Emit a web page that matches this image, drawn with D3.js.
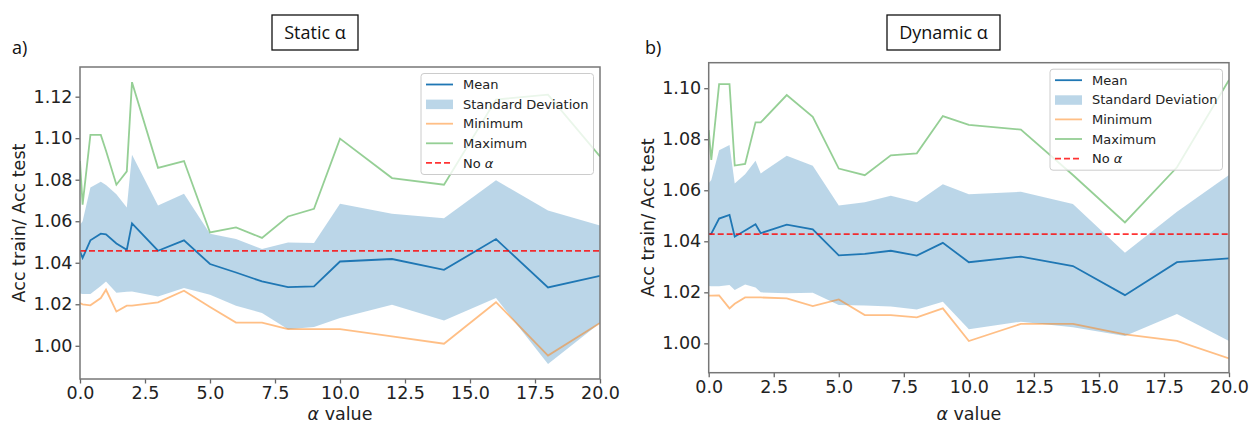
<!DOCTYPE html>
<html>
<head>
<meta charset="utf-8">
<script src="https://cdn.jsdelivr.net/npm/d3@7"></script>
<style>
  body { margin: 0; background: #fff; }
  text { font-family: "DejaVu Sans", sans-serif; }
</style>
</head>
<body>
<script>
// alpha values shared by both runs
var alphaValues = [0, 0.1, 0.4, 0.8, 1.0, 1.4, 1.8, 2.0, 3, 4, 5, 6, 7, 8, 9, 10, 12, 14, 16, 18, 20];
var xTicks = [0, 2.5, 5, 7.5, 10, 12.5, 15, 17.5, 20];

// static alpha
var staticMean  = [1.0455, 1.0423, 1.0508, 1.0540, 1.0537, 1.0493, 1.0462, 1.0590, 1.0458, 1.0508, 1.0394, 1.0353, 1.0310, 1.0283, 1.0286, 1.0406, 1.0418, 1.0366, 1.0514, 1.0281, 1.0337];
var staticUpper = [1.0583, 1.0600, 1.0762, 1.0790, 1.0775, 1.0730, 1.0666, 1.0920, 1.0676, 1.0733, 1.0540, 1.0514, 1.0466, 1.0498, 1.0495, 1.0684, 1.0636, 1.0614, 1.0797, 1.0652, 1.0580];
var staticLower = [1.0252, 1.0250, 1.0250, 1.0288, 1.0310, 1.0256, 1.0260, 1.0262, 1.0238, 1.0278, 1.0246, 1.0193, 1.0158, 1.0080, 1.0090, 1.0134, 1.0198, 1.0122, 1.0230, 0.9912, 1.0110];
var staticMin   = [1.0206, 1.0200, 1.0195, 1.0230, 1.0270, 1.0165, 1.0193, 1.0193, 1.0209, 1.0265, 1.0187, 1.0112, 1.0112, 1.0080, 1.0080, 1.0080, 1.0045, 1.0010, 1.0210, 0.9953, 1.0110];
var staticMax   = [1.0890, 1.0680, 1.1016, 1.1016, 1.0940, 1.0776, 1.0840, 1.1270, 1.0857, 1.0890, 1.0546, 1.0570, 1.0520, 1.0623, 1.0660, 1.0998, 1.0808, 1.0776, 1.1186, 1.1210, 1.0912];
var staticNoAlpha = 1.0457;
var staticYTicks = [1.00, 1.02, 1.04, 1.06, 1.08, 1.10, 1.12];

// dynamic alpha
var dynMean  = [1.0428, 1.0430, 1.0489, 1.0503, 1.0418, 1.0442, 1.0467, 1.0432, 1.0465, 1.0447, 1.0345, 1.0351, 1.0363, 1.0344, 1.0394, 1.0318, 1.0340, 1.0303, 1.0189, 1.0318, 1.0333];
var dynUpper = [1.0628, 1.0640, 1.0757, 1.0777, 1.0627, 1.0663, 1.0716, 1.0666, 1.0735, 1.0696, 1.0540, 1.0553, 1.0579, 1.0553, 1.0624, 1.0584, 1.0594, 1.0546, 1.0355, 1.0516, 1.0660];
var dynLower = [1.0225, 1.0224, 1.0224, 1.0229, 1.0209, 1.0231, 1.0219, 1.0200, 1.0196, 1.0198, 1.0150, 1.0148, 1.0144, 1.0133, 1.0163, 1.0055, 1.0085, 1.0063, 1.0029, 1.0115, 1.0009];
var dynMin   = [1.0187, 1.0187, 1.0188, 1.0137, 1.0155, 1.0180, 1.0180, 1.0180, 1.0176, 1.0146, 1.0172, 1.0111, 1.0111, 1.0102, 1.0137, 1.0009, 1.0076, 1.0076, 1.0035, 1.0010, 0.9941];
var dynMax   = [1.0836, 1.0719, 1.1016, 1.1016, 1.0697, 1.0703, 1.0866, 1.0866, 1.0973, 1.0888, 1.0685, 1.0659, 1.0737, 1.0745, 1.0891, 1.0856, 1.0838, 1.0660, 1.0474, 1.0690, 1.1032];
var dynNoAlpha = 1.0428;
var dynYTicks = [1.00, 1.02, 1.04, 1.06, 1.08, 1.10];

var legendLabels = ["Mean", "Standard Deviation", "Minimum", "Maximum", "No "];

var svg = d3.select("body").append("svg")
    .attr("width", 1257)
    .attr("height", 426);

var blue = "#1f77b4", orange = "#ff7f0e", green = "#2ca02c";

function drawPanel(p) {
  var x = d3.scaleLinear().domain([0, 20]).range([p.left, p.right]);
  var y = d3.scaleLinear().domain(p.yDomain).range([p.bottom, p.top]);
  var g = svg.append("g");

  g.append("clipPath").attr("id", "clip" + p.id)
    .append("rect")
    .attr("x", p.left).attr("y", p.top)
    .attr("width", p.right - p.left).attr("height", p.bottom - p.top);

  var plot = g.append("g").attr("clip-path", "url(#clip" + p.id + ")");

  var rows = alphaValues.map(function(a, i) {
    return {a: a, mean: p.mean[i], lo: p.lower[i], hi: p.upper[i], min: p.min[i], max: p.max[i]};
  });

  // std band
  plot.append("path").datum(rows)
    .attr("d", d3.area().x(d => x(d.a)).y0(d => y(d.lo)).y1(d => y(d.hi)))
    .attr("fill", blue).attr("fill-opacity", 0.3);

  var lineOf = function(key) {
    return d3.line().x(d => x(d.a)).y(d => y(d[key]));
  };
  plot.append("path").datum(rows).attr("d", lineOf("mean"))
    .attr("fill", "none").attr("stroke", blue).attr("stroke-width", 1.8);
  plot.append("path").datum(rows).attr("d", lineOf("min"))
    .attr("fill", "none").attr("stroke", orange).attr("stroke-opacity", 0.5).attr("stroke-width", 1.8);
  plot.append("path").datum(rows).attr("d", lineOf("max"))
    .attr("fill", "none").attr("stroke", green).attr("stroke-opacity", 0.5).attr("stroke-width", 1.8);

  // no alpha reference
  plot.append("line")
    .attr("x1", p.left).attr("x2", p.right)
    .attr("y1", y(p.noAlpha)).attr("y2", y(p.noAlpha))
    .attr("stroke", "#ff0000").attr("stroke-opacity", 0.8)
    .attr("stroke-width", 1.8).attr("stroke-dasharray", "6,3");

  // axes
  var xAxis = d3.axisBottom(x).tickValues(xTicks).tickFormat(d3.format(".1f"))
    .tickSize(4.5).tickPadding(3.5);
  var yAxis = d3.axisLeft(y).tickValues(p.yTicks).tickFormat(d3.format(".2f"))
    .tickSize(4.5).tickPadding(3);

  var gx = g.append("g").attr("transform", "translate(0," + p.bottom + ")").call(xAxis);
  var gy = g.append("g").attr("transform", "translate(" + p.left + ",0)").call(yAxis);
  [gx, gy].forEach(function(ax) {
    ax.select(".domain").remove();
    ax.selectAll(".tick line").attr("stroke", "#666").attr("stroke-width", 1.3);
    ax.selectAll(".tick text")
      .attr("fill", "#222")
      .style("font-family", "'DejaVu Sans', sans-serif")
      .style("font-size", "17.5px");
  });

  // frame
  g.append("rect")
    .attr("x", p.left).attr("y", p.top)
    .attr("width", p.right - p.left).attr("height", p.bottom - p.top)
    .attr("fill", "none").attr("stroke", "#777").attr("stroke-width", 1.5);

  // axis labels
  var xl = g.append("text")
    .attr("x", (p.left + p.right) / 2).attr("y", 420)
    .attr("text-anchor", "middle")
    .attr("fill", "#222")
    .style("font-size", "17.5px");
  xl.append("tspan").style("font-style", "italic").text("α");
  xl.append("tspan").text(" value");

  g.append("text")
    .attr("transform", "translate(" + (p.left - 55) + "," + ((p.top + p.bottom) / 2) + ") rotate(-90)")
    .attr("text-anchor", "middle")
    .attr("fill", "#222")
    .style("font-size", "17.5px")
    .text("Acc train/ Acc test");

  // legend
  var lx = p.right - 179, ly = p.top + 6.5;
  var lg = g.append("g").attr("transform", "translate(" + lx + "," + ly + ")");
  lg.append("rect")
    .attr("width", 172.5).attr("height", 101)
    .attr("rx", 3)
    .attr("fill", "#fff").attr("fill-opacity", 0.8)
    .attr("stroke", "#ccc").attr("stroke-width", 1);

  legendLabels.forEach(function(lab, i) {
    var cy = 11 + i * 19.6;
    if (i === 1) {
      lg.append("rect").attr("x", 5).attr("y", cy - 4.5).attr("width", 27).attr("height", 9.5)
        .attr("fill", blue).attr("fill-opacity", 0.3);
    } else {
      var ln = lg.append("line").attr("x1", 5).attr("x2", 32).attr("y1", cy).attr("y2", cy)
        .attr("stroke-width", 1.8);
      if (i === 0) ln.attr("stroke", blue);
      if (i === 2) ln.attr("stroke", orange).attr("stroke-opacity", 0.5);
      if (i === 3) ln.attr("stroke", green).attr("stroke-opacity", 0.5);
      if (i === 4) ln.attr("stroke", "#ff0000").attr("stroke-opacity", 0.8).attr("stroke-dasharray", "6,3");
    }
    var t = lg.append("text").attr("x", 42).attr("y", cy).attr("dy", "0.36em")
      .attr("fill", "#222").style("font-size", "13px").text(lab);
    if (i === 4) t.append("tspan").style("font-style", "italic").text("α");
  });
}

drawPanel({
  id: "a", left: 80, right: 600, top: 67, bottom: 379,
  yDomain: [0.984, 1.1343], yTicks: staticYTicks,
  mean: staticMean, upper: staticUpper, lower: staticLower,
  min: staticMin, max: staticMax, noAlpha: staticNoAlpha
});

drawPanel({
  id: "b", left: 708.7, right: 1229, top: 62.7, bottom: 372.7,
  yDomain: [0.9885, 1.1100], yTicks: dynYTicks,
  mean: dynMean, upper: dynUpper, lower: dynLower,
  min: dynMin, max: dynMax, noAlpha: dynNoAlpha
});

// panel titles
var titles = [
  {label: "Static α", cx: 315, w: 86, tag: "a)", tx: 12},
  {label: "Dynamic α", cx: 943.5, w: 113, tag: "b)", tx: 645}
];
titles.forEach(function(t) {
  svg.append("rect")
    .attr("x", t.cx - t.w / 2).attr("y", 15)
    .attr("width", t.w).attr("height", 35)
    .attr("fill", "#fff").attr("stroke", "#111").attr("stroke-width", 1.3);
  svg.append("text")
    .attr("x", t.cx).attr("y", 39)
    .attr("text-anchor", "middle")
    .attr("fill", "#111")
    .style("font-family", "'Open Sans', sans-serif")
    .style("font-size", "18px")
    .text(t.label);
  svg.append("text")
    .attr("x", t.tx).attr("y", 54)
    .attr("fill", "#111")
    .style("font-family", "'Open Sans', sans-serif")
    .style("font-size", "18px")
    .text(t.tag);
});
</script>
</body>
</html>
